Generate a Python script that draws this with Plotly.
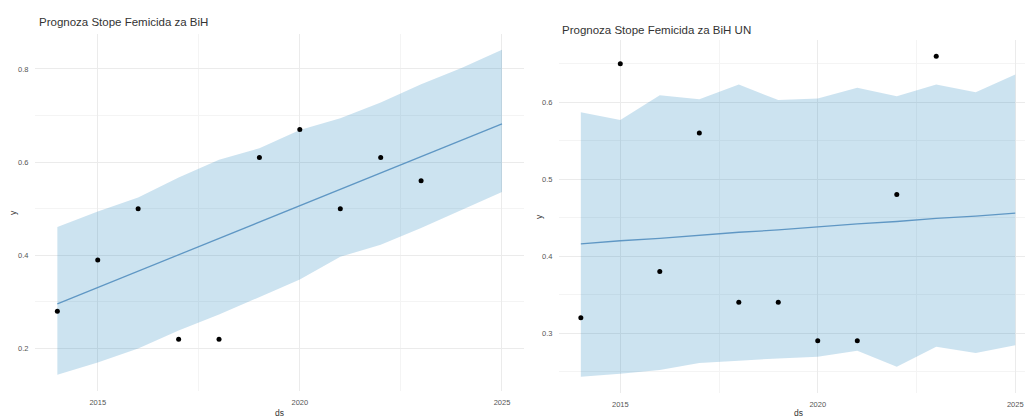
import plotly.graph_objects as go

# ---- data ----
years = ["2014-01-01", "2015-01-01", "2016-01-01", "2017-01-01", "2018-01-01", "2019-01-01",
         "2020-01-01", "2021-01-01", "2022-01-01", "2023-01-01", "2024-01-01", "2025-01-01"]
obs_years = years[:10]

# Left: Prognoza Stope Femicida za BiH
bih_y = [0.28, 0.39, 0.50, 0.22, 0.22, 0.61, 0.67, 0.50, 0.61, 0.56]
bih_yhat = [0.296, 0.331, 0.366, 0.401, 0.437, 0.472, 0.507, 0.542, 0.577, 0.612, 0.647, 0.682]
bih_upper = [0.461, 0.494, 0.524, 0.567, 0.605, 0.630, 0.669, 0.694, 0.728, 0.767, 0.802, 0.841]
bih_lower = [0.144, 0.170, 0.200, 0.239, 0.273, 0.311, 0.348, 0.397, 0.423, 0.459, 0.498, 0.536]

# Right: Prognoza Stope Femicida za BiH UN
un_y = [0.32, 0.65, 0.38, 0.56, 0.34, 0.34, 0.29, 0.29, 0.48, 0.66]
un_yhat = [0.416, 0.420, 0.423, 0.427, 0.431, 0.434, 0.438, 0.442, 0.445, 0.449, 0.452, 0.456]
un_upper = [0.587, 0.577, 0.609, 0.604, 0.623, 0.603, 0.605, 0.619, 0.608, 0.623, 0.613, 0.636]
un_lower = [0.243, 0.247, 0.252, 0.261, 0.264, 0.267, 0.269, 0.277, 0.256, 0.282, 0.274, 0.284]

titles = ["Prognoza Stope Femicida za BiH", "Prognoza Stope Femicida za BiH UN"]
x_tickvals = ["2015-01-01", "2020-01-01", "2025-01-01"]
x_ticktext = ["2015", "2020", "2025"]

BAND = "rgba(0,114,178,0.2)"
LINE = "#5f97c4"
GRID = "#ebebeb"
MINOR = "#f4f4f4"

fig = go.Figure()

def add_panel(xa, ya, y, yhat, upper, lower):
    fig.add_trace(go.Scatter(x=years, y=lower, mode="lines", line=dict(width=0, color=BAND),
                             xaxis=xa, yaxis=ya, showlegend=False, hoverinfo="skip"))
    fig.add_trace(go.Scatter(x=years, y=upper, mode="lines", line=dict(width=0, color=BAND),
                             fill="tonexty", fillcolor=BAND,
                             xaxis=xa, yaxis=ya, showlegend=False, hoverinfo="skip"))
    fig.add_trace(go.Scatter(x=years, y=yhat, mode="lines", line=dict(width=1.3, color=LINE),
                             xaxis=xa, yaxis=ya, showlegend=False))
    fig.add_trace(go.Scatter(x=obs_years, y=y, mode="markers",
                             marker=dict(size=5, color="black"),
                             xaxis=xa, yaxis=ya, showlegend=False))

add_panel("x", "y", bih_y, bih_yhat, bih_upper, bih_lower)
add_panel("x2", "y2", un_y, un_yhat, un_upper, un_lower)

W, H = 1025, 419
def xd(a, b):
    return [a / W, b / W]
def yd(top, bottom):
    return [(H - bottom) / H, (H - top) / H]

tickfont = dict(family="Liberation Sans, Arial", size=7.5, color="#555555")

xcommon = dict(type="date", tickmode="array", tickvals=x_tickvals, ticktext=x_ticktext,
               showgrid=True, gridcolor=GRID, gridwidth=1, zeroline=False, showline=False,
               ticks="outside", ticklen=4, tickcolor="rgba(0,0,0,0)", tickfont=tickfont,
               minor=dict(tickmode="array", tickvals=["2017-07-02", "2022-07-02"],
                          showgrid=True, gridcolor=MINOR, gridwidth=1, ticks=""),
               automargin=False, fixedrange=True)
ycommon = dict(showgrid=True, gridcolor=GRID, gridwidth=1, zeroline=False, showline=False,
               ticks="outside", ticklen=4, tickcolor="rgba(0,0,0,0)", tickfont=tickfont,
               automargin=False, fixedrange=True)

fig.update_layout(
    width=W, height=H,
    margin=dict(l=0, r=0, t=0, b=0),
    paper_bgcolor="white", plot_bgcolor="white",
    xaxis=dict(xcommon, domain=xd(35, 524), range=["2013-06-13", "2025-07-19"], anchor="y"),
    yaxis=dict(ycommon, domain=yd(34, 391), range=[0.109, 0.875], anchor="x",
               tickmode="array", tickvals=[0.2, 0.4, 0.6, 0.8], ticktext=["0.2", "0.4", "0.6", "0.8"],
               minor=dict(tickmode="array", tickvals=[0.3, 0.5, 0.7], showgrid=True,
                          gridcolor=MINOR, gridwidth=1, ticks="")),
    xaxis2=dict(xcommon, domain=xd(559, 1025), range=["2013-06-13", "2025-04-01"], anchor="y2"),
    yaxis2=dict(ycommon, domain=yd(40, 393), range=[0.222, 0.681], anchor="x2",
                tickmode="array", tickvals=[0.3, 0.4, 0.5, 0.6], ticktext=["0.3", "0.4", "0.5", "0.6"],
                minor=dict(tickmode="array", tickvals=[0.25, 0.35, 0.45, 0.55, 0.65], showgrid=True,
                           gridcolor=MINOR, gridwidth=1, ticks="")),
)

titlefont = dict(family="Liberation Sans, Arial", size=11.5, color="#333333")
labfont = dict(family="Liberation Sans, Arial", size=8.5, color="#333333")
ann = [
    dict(text=titles[0], x=37, y=22, xanchor="left", yanchor="middle", font=titlefont),
    dict(text=titles[1], x=560, y=30, xanchor="left", yanchor="middle", font=titlefont),
    dict(text="ds", x=279, y=413, xanchor="center", yanchor="middle", font=labfont),
    dict(text="ds", x=798, y=413, xanchor="center", yanchor="middle", font=labfont),
    dict(text="y", x=13, y=213, xanchor="center", yanchor="middle", font=labfont, textangle=-90),
    dict(text="y", x=539, y=217, xanchor="center", yanchor="middle", font=labfont, textangle=-90),
]
for a in ann:
    fig.add_annotation(xref="paper", yref="paper", x=a["x"] / W, y=(H - a["y"]) / H,
                       text=a["text"], showarrow=False, xanchor=a["xanchor"], yanchor=a["yanchor"],
                       font=a["font"], textangle=a.get("textangle", 0))

fig.write_html(
    "out.html",
    config={"displayModeBar": False},
    post_script="document.body.style.margin='0';document.body.style.overflow='hidden';",
)
